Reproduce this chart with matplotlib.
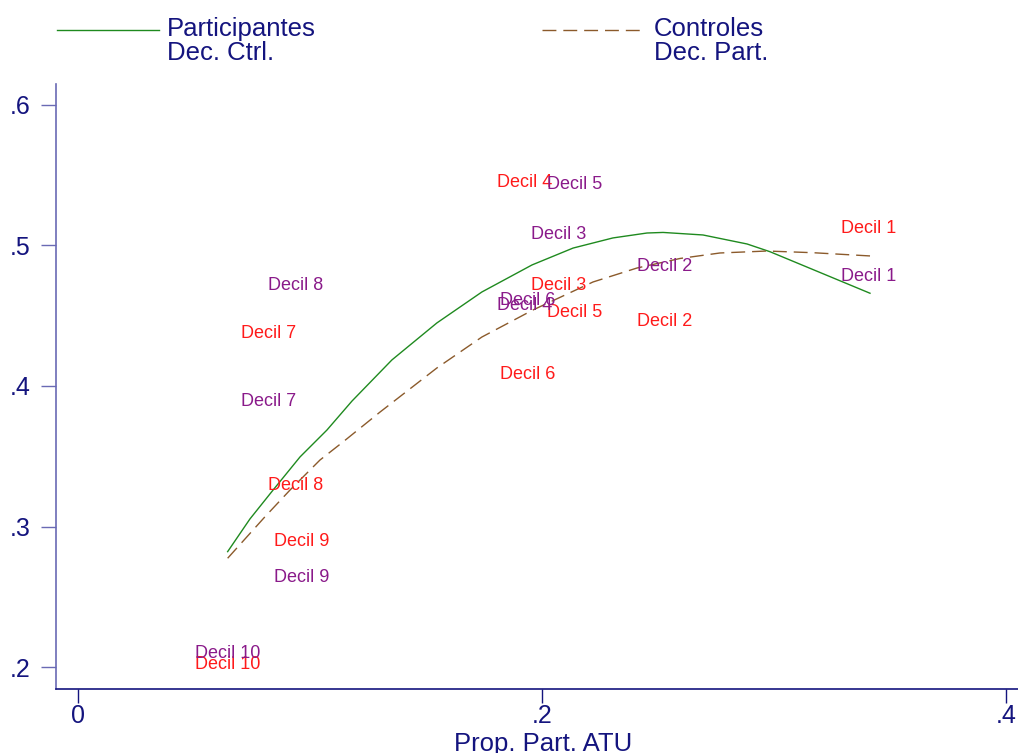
import matplotlib
matplotlib.use("Agg")
import matplotlib.pyplot as plt
from matplotlib.lines import Line2D

plt.rcParams['font.family'] = ['Liberation Sans', 'DejaVu Sans']
plt.rcParams['lines.scale_dashes'] = False

# fitted curves
part_x = [0.0645, 0.0741, 0.0841, 0.0957, 0.1073, 0.1181, 0.1353, 0.1547, 0.1741,
          0.1957, 0.2134, 0.2306, 0.2453, 0.2522, 0.2694, 0.2884, 0.2983, 0.3414]
part_y = [0.2823, 0.3055, 0.3261, 0.3496, 0.3687, 0.3893, 0.4185, 0.4448, 0.4668,
          0.4860, 0.4980, 0.5052, 0.5087, 0.5091, 0.5073, 0.5009, 0.4954, 0.4659]
ctrl_x = [0.0645, 0.0806, 0.0914, 0.1043, 0.1142, 0.1302, 0.1547, 0.1741, 0.1961,
          0.2220, 0.2409, 0.2595, 0.2767, 0.2970, 0.3168, 0.3414]
ctrl_y = [0.2776, 0.3071, 0.3261, 0.3474, 0.3602, 0.3815, 0.4128, 0.4348, 0.4540,
          0.4739, 0.4838, 0.4906, 0.4945, 0.4959, 0.4947, 0.4924]

# deciles
decil_n = [1, 2, 3, 4, 5, 6, 7, 8, 9, 10]
decil_x = [0.3267, 0.2384, 0.1927, 0.1780, 0.1996, 0.1795, 0.0677, 0.0796, 0.0822, 0.0480]
dec_ctrl_y = [0.4791, 0.4860, 0.5091, 0.4585, 0.5449, 0.4620, 0.3903, 0.4725, 0.2652, 0.2112]
dec_part_y = [0.5130, 0.4476, 0.4726, 0.5461, 0.4538, 0.4098, 0.4384, 0.3305, 0.2908, 0.2039]

x_ticks = [0, 0.2, 0.4]
x_ticklabels = ['0', '.2', '.4']
y_ticks = [0.2, 0.3, 0.4, 0.5, 0.6]
y_ticklabels = ['.2', '.3', '.4', '.5', '.6']

navy = '#14147e'
navy_light = '#6a6ab4'
green = '#1f8a1f'
brown = '#8b5a2b'
red = '#ff1a1a'
purple = '#8a1a8a'

fig = plt.figure(figsize=(10.18, 7.53), dpi=100)
ax = fig.add_axes([0.055, 0.085, 0.945, 0.8035])

ax.plot(part_x, part_y, color=green, lw=1.0)
ax.plot(ctrl_x, ctrl_y, color=brown, lw=1.0, dashes=(10, 5))

for n, x, y in zip(decil_n, decil_x, dec_part_y):
    ax.annotate(f'Decil {n}', (x, y), xytext=(4, -4.7), textcoords='offset points',
                ha='left', va='baseline', color=red, fontsize=13)
for n, x, y in zip(decil_n, decil_x, dec_ctrl_y):
    ax.annotate(f'Decil {n}', (x, y), xytext=(4, -4.7), textcoords='offset points',
                ha='left', va='baseline', color=purple, fontsize=13)

ax.set_xlim(-0.0095, 0.4052)
ax.set_ylim(0.1847, 0.6146)
ax.set_xticks(x_ticks)
ax.set_xticklabels(x_ticklabels)
ax.set_yticks(y_ticks)
ax.set_yticklabels(y_ticklabels)

for s in ['top', 'right']:
    ax.spines[s].set_visible(False)
ax.spines['bottom'].set_color(navy)
ax.spines['bottom'].set_linewidth(1.2)
ax.spines['left'].set_color(navy_light)
ax.spines['left'].set_linewidth(1.2)
ax.tick_params(axis='x', length=10, width=1.0, color=navy, labelcolor=navy,
               labelsize=18, pad=1)
ax.tick_params(axis='y', length=10.8, width=1.0, color=navy_light, labelcolor=navy,
               labelsize=18, pad=7.5)

fig.text(543 / 1018, 1.5 / 753, 'Prop. Part. ATU', ha='center', va='baseline',
         color=navy, fontsize=18.5)

# legend, two columns
key_y = 1 - 30 / 753
fig.add_artist(Line2D([57 / 1018, 159 / 1018], [key_y, key_y], color=green, lw=1.0))
fig.add_artist(Line2D([542 / 1018, 646 / 1018], [key_y, key_y], color=brown, lw=1.0,
                      dashes=(10, 5)))
row1 = 1 - 36 / 753
row2 = 1 - 60 / 753
fig.text(167 / 1018, row1, 'Participantes', color=navy, fontsize=18.5, va='baseline')
fig.text(167 / 1018, row2, 'Dec. Ctrl.', color=navy, fontsize=18.5, va='baseline')
fig.text(654 / 1018, row1, 'Controles', color=navy, fontsize=18.5, va='baseline')
fig.text(654 / 1018, row2, 'Dec. Part.', color=navy, fontsize=18.5, va='baseline')

fig.savefig('out.png', dpi=100)
